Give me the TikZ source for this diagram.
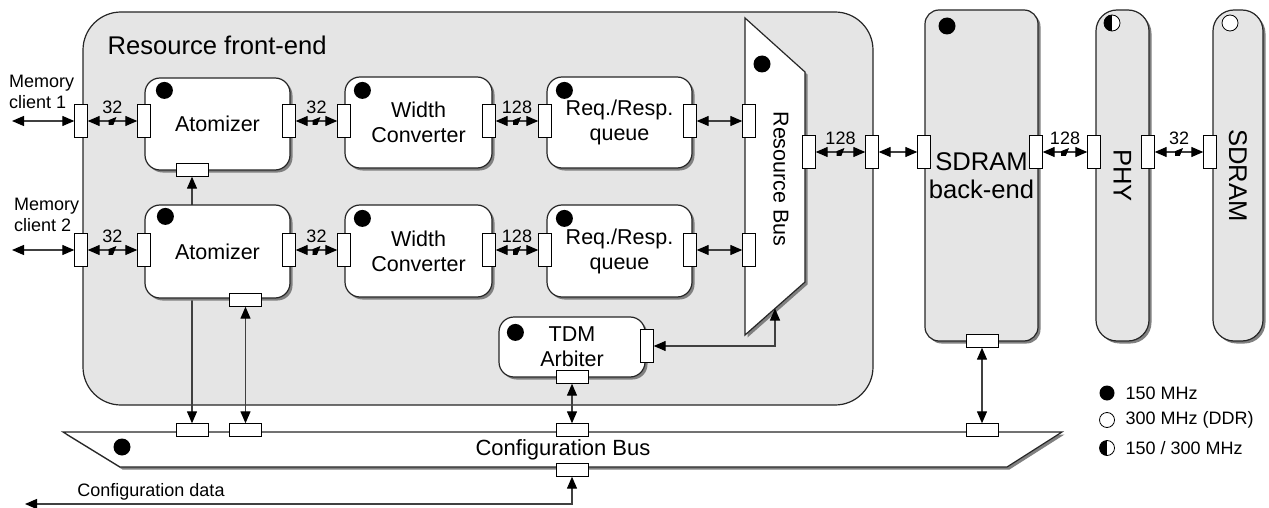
\documentclass[tikz,border=0pt]{standalone}
\usepackage{fontspec}
\setmainfont{Liberation Sans}
\usetikzlibrary{arrows.meta,shadows,calc}
\pgfdeclarelayer{back}
\pgfdeclarelayer{mid}
\pgfsetlayers{back,mid,main}

\tikzset{
  every node/.style={font=\fontsize{18}{21}\selectfont},
  shd/.style={drop shadow={shadow xshift=2.5pt, shadow yshift=-2.5pt, fill=black!50, opacity=1}},
  block/.style={draw=black!85, line width=1.2pt, fill=white, rounded corners=15pt, shd,
    align=center, inner sep=0pt, font=\fontsize{21.5}{25}\selectfont},
  column/.style={draw=black!85, line width=1.2pt, fill=black!10, shd, inner sep=0pt},
  vport/.style={draw=black, line width=0.9pt, fill=white, minimum width=12.5pt, minimum height=33pt, inner sep=0pt},
  hport/.style={draw=black, line width=0.9pt, fill=white, minimum width=32pt, minimum height=12.5pt, inner sep=0pt},
  clk/.style={circle, fill=black, minimum size=17pt, inner sep=0pt},
  clkddr/.style={circle, draw=black, line width=0.8pt, fill=white, minimum size=16pt, inner sep=0pt},
  clkhalf/.style={circle, draw=black, line width=0.8pt, fill=white, minimum size=16pt, inner sep=0pt,
    path picture={\fill[black] (path picture bounding box.south west) rectangle (path picture bounding box.north);}},
  link/.style={draw=black!75, line width=1.3pt,
    {Triangle[length=12pt,width=10pt,color=black]}-{Triangle[length=12pt,width=10pt,color=black]}},
  slash/.style={minimum width=8pt, minimum height=8pt, inner sep=0pt, pos=0.5,
    path picture={\draw[black!75, line width=0.8pt] (path picture bounding box.south west) -- (path picture bounding box.north east);}},
  bwl/.style={anchor=south, yshift=6pt, inner sep=1pt, pos=0.5},
  bigtext/.style={font=\fontsize{25.6}{28}\selectfont},
  midtext/.style={font=\fontsize{21.5}{25}\selectfont},
}

\begin{document}
\begin{tikzpicture}[x=1pt,y=-1pt]
\useasboundingbox (0,0) rectangle (1269,508);

% resource front-end region
\begin{pgfonlayer}{back}
  \node[draw=black!85, line width=1.2pt, fill=black!10, rounded corners=38pt,
        minimum width=790pt, minimum height=393pt, inner sep=0pt] (fe) at (478,208.5) {};
\end{pgfonlayer}
\node[bigtext, anchor=west] (fetitle) at (104,45) {Resource front-end};

% processing blocks
\node[block, minimum width=145pt, minimum height=92pt] (at1) at (217.5,124) {Atomizer};
\node[block, minimum width=145pt, minimum height=93pt] (at2) at (217.5,251.5) {Atomizer};
\node[block, minimum width=147pt, minimum height=91pt] (wc1) at (418.5,122.5) {Width\\Converter};
\node[block, minimum width=147pt, minimum height=92pt] (wc2) at (418.5,251) {Width\\Converter};
\node[block, minimum width=145pt, minimum height=91pt] (q1) at (619.5,122.5) {Req./Resp.\\queue};
\node[block, minimum width=145pt, minimum height=92pt] (q2) at (619.5,251) {Req./Resp.\\queue};
\node[block, minimum width=146pt, minimum height=60pt] (tdm) at (572,347) {TDM\\Arbiter};

% resource bus
\path[draw=black!85, line width=1.2pt, fill=white, shd]
  (745,18) -- (805,72) -- (805,282) -- (745,335) -- cycle;
\node[midtext, rotate=-90] (rbtxt) at (781,179) {Resource Bus};
\coordinate (rbin) at (775,308.5);

% back-end, PHY and memory device
\node[column, rounded corners=14pt, minimum width=113pt, minimum height=331pt,
      align=center, bigtext] (be) at (981.5,175.5) {SDRAM\\back-end};
\node[column, rounded corners=21pt, minimum width=53pt, minimum height=331pt] (phy) at (1122.5,175.5) {};
\node[bigtext, rotate=-90] (phytxt) at (phy.center) {PHY};
\node[column, rounded corners=21pt, minimum width=50pt, minimum height=331pt] (sd) at (1238,175.5) {};
\node[bigtext, rotate=-90] (sdtxt) at (sd.center) {SDRAM};

% configuration bus
\path[draw=black!85, line width=1.2pt, fill=white, shd]
  (63,432) -- (1062,432) -- (1007,467) -- (120,467) -- cycle;
\node[font=\fontsize{22}{26}\selectfont] (cbtxt) at (563,450) {Configuration Bus};

% clock-domain markers
\node[clk] (d1) at ($(at1.north west)+(20,13)$) {};
\node[clk] (d2) at ($(at2.north west)+(21,12)$) {};
\node[clk] (d3) at ($(wc1.north west)+(18,14)$) {};
\node[clk] (d4) at ($(wc2.north west)+(18,14)$) {};
\node[clk] (d5) at ($(q1.north west)+(18,14)$) {};
\node[clk] (d6) at ($(q2.north west)+(18,14)$) {};
\node[clk] (d7) at ($(tdm.north west)+(17,16)$) {};
\node[clk] (d8) at (762,64) {};
\node[clk] (d9) at (122,447) {};
\node[clk] (d10) at (947,26) {};
\node[clkhalf] (d11) at (1112,23) {};
\node[clkddr] (d12) at (1230,23) {};

% ports, first row
\node[vport] (mp1) at (81,121) {};
\node[vport] (at1l) at (144,121) {};
\node[vport] (at1r) at (289,121) {};
\node[vport] (wc1l) at (344,121) {};
\node[vport] (wc1r) at (489,121) {};
\node[vport] (q1l) at (545,121) {};
\node[vport] (q1r) at (690,121) {};
\node[vport] (rb1) at (749,121) {};
% ports, second row
\node[vport] (mp2) at (81,250) {};
\node[vport] (at2l) at (144,250) {};
\node[vport] (at2r) at (289,250) {};
\node[vport] (wc2l) at (344,250) {};
\node[vport] (wc2r) at (489,250) {};
\node[vport] (q2l) at (545,250) {};
\node[vport] (q2r) at (690,250) {};
\node[vport] (rb2) at (749,250) {};
% ports towards the memory
\node[vport] (rbo) at (809,152) {};
\node[vport] (feo) at (872,152) {};
\node[vport] (bel) at (924,152) {};
\node[vport] (ber) at (1036,152) {};
\node[vport] (phyl) at (1094,152) {};
\node[vport] (phyr) at (1148,152) {};
\node[vport] (sdl) at (1210,152) {};
% configuration ports
\node[hport] (at1b) at (192,170) {};
\node[hport] (at2b) at (245.5,300) {};
\node[hport] (tdmb) at (572,377) {};
\node[vport] (tdmr) at (647,346) {};
\node[hport] (beb) at (982,341) {};
\node[hport] (cb1) at (192,430) {};
\node[hport] (cb2) at (245.5,430) {};
\node[hport] (cb3) at (572,430) {};
\node[hport] (cb4) at (982,430) {};
\node[hport] (cbd) at (572,470) {};

% memory clients
\coordinate (mc1) at (12,121);
\coordinate (mc2) at (12,250);
\node[align=left, anchor=west, inner sep=0pt] (mcl1) at (9,92) {Memory\\client 1};
\node[align=left, anchor=west, inner sep=0pt] (mcl2) at (14,215) {Memory\\client 2};

% data path
\draw[link] (mc1) -- (mp1.west);
\draw[link] (mp1.east) -- node[slash]{} node[bwl]{32} (at1l.west);
\draw[link] (at1r.east) -- node[slash]{} node[bwl]{32} (wc1l.west);
\draw[link] (wc1r.east) -- node[slash]{} node[bwl]{128} (q1l.west);
\draw[link] (q1r.east) -- (rb1.west);
\draw[link] (mc2) -- (mp2.west);
\draw[link] (mp2.east) -- node[slash]{} node[bwl]{32} (at2l.west);
\draw[link] (at2r.east) -- node[slash]{} node[bwl]{32} (wc2l.west);
\draw[link] (wc2r.east) -- node[slash]{} node[bwl]{128} (q2l.west);
\draw[link] (q2r.east) -- (rb2.west);
\draw[link] (rbo.east) -- node[slash]{} node[bwl]{128} (feo.west);
\draw[link] (feo.east) -- (bel.west);
\draw[link] (ber.east) -- node[slash]{} node[bwl]{128} (phyl.west);
\draw[link] (phyr.east) -- node[slash]{} node[bwl]{32} (sdl.west);
\draw[link] (tdmr.east) -| (rbin);

% configuration connections
\begin{pgfonlayer}{mid}
  \draw[link] (at1b.south) -- (cb1.north);
\end{pgfonlayer}
\draw[link] (at2b.south) -- (cb2.north);
\draw[link] (tdmb.south) -- (cb3.north);
\draw[link] (beb.south) -- (cb4.north);
\coordinate (cfgout) at (25,504);
\draw[link] (cbd.south) |- (cfgout);
\node (cfgdata) at (151,492) {Configuration data};

% legend
\node[clk, minimum size=15pt] (lg1) at (1107,393) {};
\node[clkddr, minimum size=15pt] (lg2) at (1107,420) {};
\node[clkhalf, minimum size=15pt] (lg3) at (1107,448) {};
\node[anchor=west] at (1122,393) {150 MHz};
\node[anchor=west] at (1122,420) {300 MHz (DDR)};
\node[anchor=west] at (1122,448) {150 / 300 MHz};
\end{tikzpicture}
\end{document}
